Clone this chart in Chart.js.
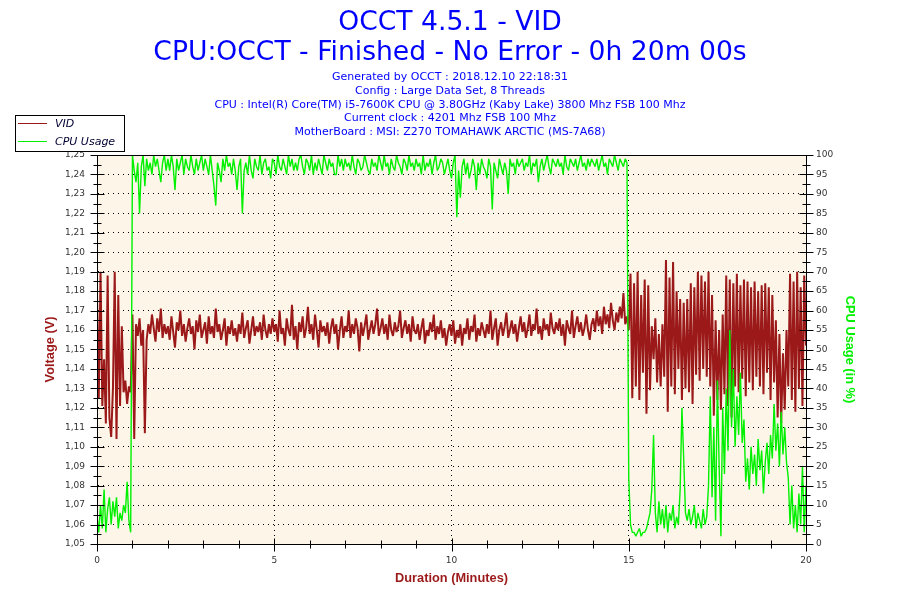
<!DOCTYPE html>
<html>
<head>
<meta charset="utf-8">
<title>OCCT 4.5.1 - VID</title>
<script src="https://cdn.jsdelivr.net/npm/chart.js@4.4.1/dist/chart.umd.min.js"></script>
<style>
    html, body { margin: 0; padding: 0; background: #ffffff; }
    #wrap { width: 900px; height: 600px; }
</style>
</head>
<body>
<div id="wrap"><canvas id="vidChart" width="900" height="600"></canvas></div>
<script>
// one OCCT sample every 3 s -> 0.05 minute between values
const sampleStep = 0.05;

// VID (volts), one row = one minute
const vidVolts = [
    1.178, 1.125, 1.190, 1.121, 1.145, 1.112, 1.188, 1.115, 1.105, 1.130, 1.190, 1.104, 1.178, 1.121, 1.162, 1.128, 1.134, 1.122, 1.131, 1.128,
    1.168, 1.104, 1.163, 1.157, 1.166, 1.152, 1.160, 1.107, 1.155, 1.163, 1.158, 1.168, 1.161, 1.154, 1.166, 1.159, 1.171, 1.156, 1.163, 1.158,
    1.162, 1.155, 1.167, 1.159, 1.151, 1.164, 1.160, 1.170, 1.157, 1.163, 1.154, 1.161, 1.166, 1.158, 1.162, 1.150, 1.165, 1.159, 1.168, 1.156,
    1.160, 1.164, 1.153, 1.167, 1.158, 1.162, 1.156, 1.171, 1.159, 1.163, 1.155, 1.160, 1.166, 1.152, 1.162, 1.158, 1.165, 1.157, 1.161, 1.154,
    1.163, 1.158, 1.169, 1.156, 1.161, 1.165, 1.153, 1.160, 1.167, 1.157, 1.162, 1.159, 1.164, 1.155, 1.168, 1.160, 1.156, 1.163, 1.158, 1.166,
    1.159, 1.163, 1.154, 1.170, 1.158, 1.161, 1.152, 1.166, 1.160, 1.157, 1.173, 1.155, 1.162, 1.150, 1.164, 1.159, 1.167, 1.156, 1.161, 1.172,
    1.158, 1.163, 1.155, 1.168, 1.160, 1.151, 1.165, 1.159, 1.162, 1.157, 1.164, 1.153, 1.161, 1.166, 1.158, 1.163, 1.150, 1.160, 1.167, 1.156,
    1.162, 1.159, 1.170, 1.156, 1.163, 1.158, 1.166, 1.161, 1.149, 1.164, 1.157, 1.162, 1.168, 1.155, 1.160, 1.165, 1.158, 1.163, 1.171, 1.157,
    1.161, 1.166, 1.158, 1.163, 1.155, 1.168, 1.160, 1.157, 1.164, 1.159, 1.162, 1.170, 1.156, 1.161, 1.165, 1.158, 1.163, 1.154, 1.167, 1.160,
    1.158, 1.163, 1.155, 1.161, 1.166, 1.153, 1.160, 1.157, 1.164, 1.159, 1.168, 1.155, 1.162, 1.158, 1.165, 1.156, 1.161, 1.152, 1.159, 1.163,
    1.157, 1.165, 1.153, 1.160, 1.156, 1.163, 1.152, 1.161, 1.158, 1.166, 1.155, 1.162, 1.159, 1.168, 1.154, 1.161, 1.157, 1.164, 1.160, 1.156,
    1.163, 1.158, 1.170, 1.155, 1.161, 1.166, 1.152, 1.160, 1.164, 1.157, 1.162, 1.169, 1.156, 1.160, 1.165, 1.158, 1.163, 1.154, 1.161, 1.167,
    1.159, 1.164, 1.156, 1.161, 1.168, 1.157, 1.163, 1.160, 1.171, 1.158, 1.162, 1.155, 1.166, 1.160, 1.163, 1.157, 1.169, 1.161, 1.158, 1.164,
    1.160, 1.166, 1.157, 1.163, 1.152, 1.165, 1.161, 1.158, 1.170, 1.156, 1.162, 1.167, 1.159, 1.164, 1.157, 1.161, 1.168, 1.160, 1.155, 1.163,
    1.166, 1.159, 1.170, 1.162, 1.167, 1.158, 1.172, 1.163, 1.168, 1.161, 1.174, 1.165, 1.160, 1.169, 1.164, 1.172, 1.166, 1.179, 1.163, 1.167,
    1.160, 1.189, 1.125, 1.184, 1.131, 1.190, 1.124, 1.178, 1.138, 1.186, 1.117, 1.183, 1.129, 1.162, 1.145, 1.166, 1.133, 1.158, 1.131, 1.163,
    1.136, 1.196, 1.118, 1.187, 1.131, 1.195, 1.127, 1.180, 1.140, 1.176, 1.124, 1.174, 1.130, 1.176, 1.128, 1.184, 1.122, 1.182, 1.137, 1.190,
    1.134, 1.188, 1.140, 1.185, 1.136, 1.190, 1.131, 1.178, 1.116, 1.165, 1.124, 1.160, 1.119, 1.168, 1.127, 1.188, 1.121, 1.186, 1.115, 1.184,
    1.131, 1.189, 1.128, 1.183, 1.135, 1.186, 1.126, 1.185, 1.133, 1.182, 1.129, 1.185, 1.136, 1.180, 1.131, 1.183, 1.127, 1.184, 1.138, 1.182,
    1.124, 1.178, 1.133, 1.165, 1.115, 1.158, 1.112, 1.148, 1.119, 1.160, 1.131, 1.189, 1.124, 1.185, 1.118, 1.190, 1.130, 1.182, 1.121, 1.188,
    1.152
];

// CPU usage (%), same sampling
const cpuUsage = [
    7, 3, 10, 4, 14, 3, 9, 12, 5, 11, 7, 12, 4, 8, 6, 10, 8, 16, 6, 3,
    100, 96, 93, 98, 85, 97, 100, 92, 99, 96, 98, 95, 100, 97, 99, 96, 93, 98, 100, 96,
    99, 96, 100, 97, 91, 99, 96, 98, 100, 95, 99, 97, 96, 100, 97, 95, 99, 96, 98, 100,
    96, 99, 97, 95, 100, 96, 92, 87, 98, 96, 93, 99, 96, 100, 97, 98, 95, 99, 96, 91,
    97, 99, 85, 96, 98, 95, 100, 96, 94, 99, 97, 96, 100, 95, 98, 99, 96, 97, 94, 99,
    98, 95, 100, 97, 96, 99, 97, 95, 100, 97, 99, 96, 98, 96, 99, 100, 97, 95, 99, 98,
    96, 100, 95, 98, 96, 99, 97, 95, 100, 98, 96, 99, 97, 98, 95, 95, 100, 97, 99, 96,
    99, 97, 98, 96, 100, 97, 95, 99, 98, 96, 97, 100, 98, 96, 95, 99, 97, 98, 96, 100,
    98, 96, 100, 97, 98, 95, 99, 97, 96, 100, 98, 97, 95, 99, 98, 96, 100, 97, 98, 96,
    99, 97, 98, 95, 100, 96, 98, 97, 99, 95, 98, 100, 96, 97, 99, 98, 95, 97, 99, 96,
    94, 98, 100, 84, 96, 89, 97, 99, 95, 98, 94, 96, 99, 97, 91, 98, 95, 99, 97, 96,
    94, 99, 97, 86, 98, 96, 94, 99, 97, 95, 98, 96, 90, 99, 97, 98, 95, 99, 97, 98,
    99, 96, 98, 97, 100, 95, 98, 97, 99, 93, 97, 99, 96, 98, 100, 97, 95, 99, 98, 97,
    99, 97, 98, 95, 100, 97, 96, 99, 98, 97, 99, 96, 98, 100, 97, 98, 96, 99, 97, 99,
    98, 97, 99, 96, 98, 100, 97, 98, 95, 99, 98, 97, 100, 98, 96, 99, 98, 97, 99, 98,
    17, 5, 3, 3, 2, 3, 4, 2, 3, 3, 4, 6, 8, 14, 28, 8, 3, 11, 5, 9,
    4, 10, 3, 8, 6, 10, 4, 7, 5, 14, 35, 22, 8, 6, 9, 5, 7, 10, 4, 8,
    6, 4, 9, 5, 7, 15, 38, 12, 30, 6, 42, 20, 2, 35, 18, 40, 24, 55, 30, 45,
    25, 38, 28, 44, 26, 32, 16, 22, 14, 25, 18, 23, 15, 27, 19, 24, 13, 21, 26, 18,
    28, 22, 36, 24, 31, 20, 34, 23, 30, 21, 17, 5, 15, 4, 10, 3, 13, 5, 20, 3,
    15
];

const durationTicks = [0, 5, 10, 15, 20];

const titleLines = [
    'OCCT 4.5.1 - VID',
    'CPU:OCCT - Finished - No Error - 0h 20m 00s'
];
const infoLines = [
    'Generated by OCCT : 2018.12.10 22:18:31',
    'Config : Large Data Set, 8 Threads',
    'CPU : Intel(R) Core(TM) i5-7600K CPU @ 3.80GHz (Kaby Lake) 3800 Mhz FSB 100 Mhz',
    'Current clock : 4201 Mhz FSB 100 Mhz',
    'MotherBoard : MSI: Z270 TOMAHAWK ARCTIC (MS-7A68)'
];

const vidColor = 'rgb(155, 25, 25)';
const cpuColor = 'rgb(0, 240, 0)';
const headerBlue = 'rgb(0, 0, 255)';
const plotBg = '#fdf6e8';
const tickColor = '#333333';
const uiFont = "'DejaVu Sans', Verdana, sans-serif";
const narrowBold = "'Liberation Sans Narrow', 'Liberation Sans', Arial, sans-serif";

function toPoints(values) {
    return values.map((v, i) => ({ x: +(i * sampleStep).toFixed(2), y: v }));
}

function crisp(v) {
    return Math.round(v) + 0.5;
}

// tick marks that cross the axis line (OCCT style), major + half step minor
function drawYTicks(ctx, scale, axisX, step) {
    const n = Math.round((scale.max - scale.min) / step) * 2;
    for (let k = 0; k <= n; k++) {
        const y = crisp(scale.getPixelForValue(scale.min + k * step / 2));
        const len = (k % 2 === 0) ? 7 : 4;
        ctx.beginPath();
        ctx.moveTo(axisX - len, y);
        ctx.lineTo(axisX + len, y);
        ctx.stroke();
    }
}

function drawXTicks(ctx, scale, axisY) {
    for (let v = scale.min; v <= scale.max; v++) {
        const x = crisp(scale.getPixelForValue(v));
        const major = durationTicks.includes(v);
        ctx.beginPath();
        ctx.moveTo(x, axisY - (major ? 6 : 4));
        ctx.lineTo(x, axisY + (major ? 7 : 4));
        ctx.stroke();
    }
}

const occtDecor = {
    id: 'occtDecor',
    beforeDraw(chart) {
        const { ctx, chartArea: a } = chart;
        ctx.save();
        ctx.fillStyle = '#ffffff';
        ctx.fillRect(0, 0, chart.width, chart.height);
        ctx.fillStyle = plotBg;
        ctx.fillRect(a.left, a.top, a.right - a.left, a.bottom - a.top);
        ctx.restore();
    },
    afterDraw(chart) {
        const { ctx, chartArea: a, scales } = chart;
        ctx.save();

        // header texts
        ctx.textAlign = 'center';
        ctx.textBaseline = 'alphabetic';
        ctx.fillStyle = headerBlue;
        ctx.font = '26.6px ' + uiFont;
        ctx.fillText(titleLines[0], 450, 30);
        ctx.fillText(titleLines[1], 450, 60);
        ctx.font = '11px ' + uiFont;
        infoLines.forEach((line, i) => ctx.fillText(line, 450, 80 + i * 13.8));

        // plot frame
        ctx.strokeStyle = '#000000';
        ctx.lineWidth = 1;
        ctx.strokeRect(crisp(a.left), crisp(a.top), Math.round(a.right - a.left), Math.round(a.bottom - a.top));

        // axis tick marks
        drawYTicks(ctx, scales.y, crisp(a.left), 0.01);
        drawYTicks(ctx, scales.yCpu, crisp(a.right), 5);
        drawXTicks(ctx, scales.x, crisp(a.bottom));

        // legend box, top left
        ctx.fillStyle = '#ffffff';
        ctx.fillRect(15.5, 115.5, 109, 36);
        ctx.strokeRect(15.5, 115.5, 109, 36);
        const items = chart.data.datasets;
        const rows = [123.5, 141.5];
        ctx.textAlign = 'left';
        ctx.font = 'italic 11px ' + uiFont;
        items.forEach((ds, i) => {
            ctx.strokeStyle = ds.borderColor;
            ctx.lineWidth = 1;
            ctx.beginPath();
            ctx.moveTo(18, rows[i]);
            ctx.lineTo(47, rows[i]);
            ctx.stroke();
            ctx.fillStyle = '#000033';
            ctx.fillText(ds.label, 55, rows[i] + 3.5);
        });

        ctx.restore();
    }
};

const axisTitleFont = { family: narrowBold, size: 12.8, weight: 'bold' };
const tickFont = { family: uiFont, size: 9 };

new Chart(document.getElementById('vidChart').getContext('2d'), {
    type: 'line',
    data: {
        datasets: [{
            label: 'VID',
            data: toPoints(vidVolts),
            yAxisID: 'y',
            borderColor: vidColor,
            borderWidth: 2,
            order: 1
        }, {
            label: 'CPU Usage',
            data: toPoints(cpuUsage),
            yAxisID: 'yCpu',
            borderColor: cpuColor,
            borderWidth: 1.4,
            order: 0
        }]
    },
    options: {
        responsive: false,
        animation: false,
        devicePixelRatio: 1,
        layout: {
            padding: { top: 155, left: 39, right: 39, bottom: 10 }
        },
        elements: {
            point: { radius: 0 },
            line: { tension: 0, fill: false, borderJoinStyle: 'bevel' }
        },
        plugins: {
            legend: { display: false },
            title: { display: false },
            tooltip: { enabled: false }
        },
        scales: {
            x: {
                type: 'linear',
                position: 'bottom',
                min: 0,
                max: 20,
                afterFit: s => { s.height = 46; },
                ticks: {
                    stepSize: 1,
                    autoSkip: false,
                    maxRotation: 0,
                    padding: 11,
                    color: tickColor,
                    font: tickFont,
                    callback: v => durationTicks.includes(v) ? String(v) : ''
                },
                grid: {
                    drawTicks: false,
                    lineWidth: 1,
                    color: c => (c.tick && durationTicks.includes(c.tick.value)) ? '#000000' : 'rgba(0,0,0,0)'
                },
                border: { display: true, color: '#000000', width: 1, dash: [1, 4] },
                title: {
                    display: true,
                    text: 'Duration (Minutes)',
                    color: vidColor,
                    font: axisTitleFont,
                    padding: { top: 4, bottom: 4 }
                }
            },
            y: {
                position: 'left',
                min: 1.05,
                max: 1.25,
                afterFit: s => { s.width = 58; },
                ticks: {
                    stepSize: 0.01,
                    padding: 12,
                    color: tickColor,
                    font: tickFont,
                    callback: v => v.toFixed(2).replace('.', ',')
                },
                grid: { drawTicks: false, lineWidth: 1, color: '#000000' },
                border: { display: true, color: '#000000', width: 1, dash: [1, 4] },
                title: {
                    display: true,
                    text: 'Voltage (V)',
                    color: vidColor,
                    font: axisTitleFont,
                    padding: { top: 4, bottom: 4 }
                }
            },
            yCpu: {
                position: 'right',
                min: 0,
                max: 100,
                afterFit: s => { s.width = 55; },
                ticks: {
                    stepSize: 5,
                    padding: 10,
                    color: tickColor,
                    font: tickFont
                },
                grid: { drawOnChartArea: false, drawTicks: false },
                border: { display: true, color: '#000000', width: 1 },
                title: {
                    display: true,
                    text: 'CPU Usage (in %)',
                    color: cpuColor,
                    font: axisTitleFont,
                    padding: { top: 4, bottom: 4 }
                }
            }
        }
    },
    plugins: [occtDecor]
});
</script>
</body>
</html>
